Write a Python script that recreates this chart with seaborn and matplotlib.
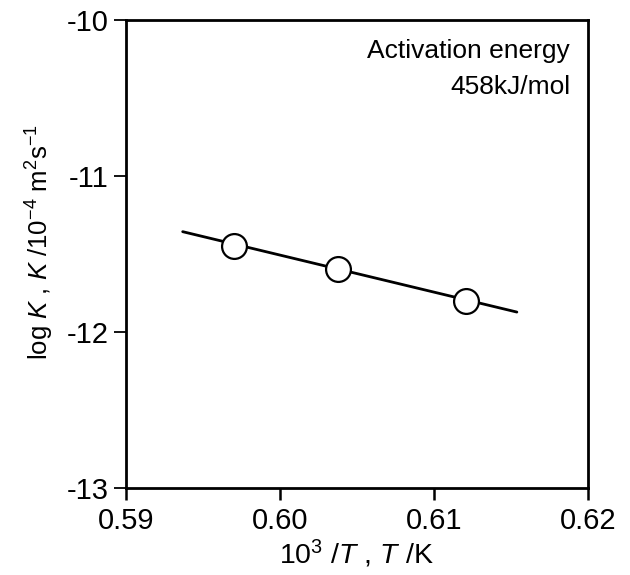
import matplotlib
matplotlib.use("Agg")
import matplotlib.pyplot as plt
import seaborn as sns
import pandas as pd

# Data
inv_T = [0.5970, 0.6038, 0.6121]          # 10^3/T
log_K = [-11.446, -11.595, -11.800]       # log K
fit_x = [0.5937, 0.6154]                  # regression line ends
fit_y = [-11.356, -11.871]
x_ticks = [0.59, 0.60, 0.61, 0.62]
x_ticklabels = ["0.59", "0.60", "0.61", "0.62"]
y_ticks = [-13, -12, -11, -10]
y_ticklabels = ["-13", "-12", "-11", "-10"]
note_lines = ["Activation energy", "458kJ/mol"]

sns.set_theme(style="ticks")
plt.rcParams["font.family"] = ["Liberation Sans", "DejaVu Sans"]
plt.rcParams["mathtext.fontset"] = "custom"
plt.rcParams["mathtext.rm"] = "Liberation Sans"
plt.rcParams["mathtext.it"] = "Liberation Sans:italic"
plt.rcParams["axes.unicode_minus"] = False

fig = plt.figure(figsize=(6.3, 5.75), dpi=100)
ax = fig.add_axes([125.7 / 630, 1 - 488.3 / 575, 462 / 630, 468.3 / 575])

pts = pd.DataFrame({"x": inv_T, "y": log_K})
fit = pd.DataFrame({"x": fit_x, "y": fit_y})

sns.lineplot(data=fit, x="x", y="y", ax=ax, color="black", linewidth=2.0, zorder=2)
sns.scatterplot(data=pts, x="x", y="y", ax=ax, s=320, facecolor="white",
                edgecolor="black", linewidth=1.6, zorder=3)

ax.set_xlim(0.59, 0.62)
ax.set_ylim(-13, -10)
ax.set_xticks(x_ticks)
ax.set_xticklabels(x_ticklabels)
ax.set_yticks(y_ticks)
ax.set_yticklabels(y_ticklabels)

for sp in ax.spines.values():
    sp.set_visible(True)
    sp.set_linewidth(2.0)
    sp.set_color("black")

ax.tick_params(axis="x", direction="out", length=8.5, width=1.8, pad=5,
               labelsize=21, colors="black")
ax.tick_params(axis="y", direction="out", length=8.5, width=1.3, pad=4,
               labelsize=21, colors="black")

ax.set_xlabel(r"10$^{3}$ /$\it{T}$ , $\it{T}$ /K", fontsize=20.5, labelpad=2, color="black")
ax.set_ylabel(r"log $\it{K}$ , $\it{K}$ /10$^{-4}$ m$^{2}$s$^{-1}$", fontsize=18.5,
              color="black")
ax.yaxis.set_label_coords(-0.151, 0.526)

ax.text(0.9617, 0.919, note_lines[0], transform=ax.transAxes, ha="right",
        va="baseline", fontsize=19, color="black")
ax.text(0.9617, 0.842, note_lines[1], transform=ax.transAxes, ha="right",
        va="baseline", fontsize=19, color="black")

ax.set_facecolor("white")
fig.patch.set_facecolor("white")
fig.savefig("out.png", dpi=100, facecolor="white")
